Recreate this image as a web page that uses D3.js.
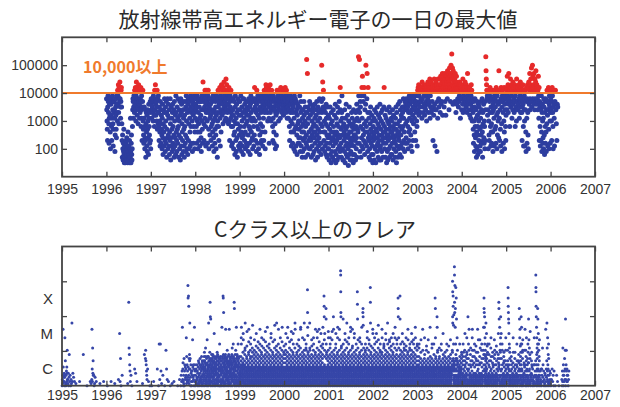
<!DOCTYPE html>
<html>
<head>
<meta charset="utf-8">
<script src="https://cdn.jsdelivr.net/npm/d3@7"></script>
<style>
body { margin: 0; background: #fff; }
.tick text { font-family: "Liberation Sans", Arial, sans-serif; font-size: 14px; fill: #333; }
.tick line { stroke: #444; stroke-width: 1.3; }
.title { font-family: "Noto Sans CJK JP", sans-serif; font-size: 21px; fill: #2a2a2a; text-anchor: middle; }
</style>
</head>
<body>
<svg id="chart" width="620" height="407"></svg>
<script>
// daily maximum of radiation belt electrons, one char per ~2 days, months split by spaces
// char index k -> log10(value) = 1.4 + 0.1*k
var electronYears = [1996, 1997, 1998, 1999, 2000, 2001, 2002, 2003, 2004, 2005, 2006];
var electronMonths = [
  "OKGD9LPNJF8HMOI C6OMIE9HNPKF7DJ NNKH5BOLIDAMPJG RPMTJFSONUOLHNR SLF93B6285D4172 3518294A6271C53 2749163H518B426 EKONHLPOJRMNSKG PUNSIOLRFOTKNMH RJONSEKPH9LNRGD B8HLE6AK93FJC7I 5DKGA4MHEB8JN96",
  "MOKHONLNJGPONIE RNKTMIONGLRDJOF PJE9LGC7NKF8IDB 6HMA4FKC7JOE95L G8NJ3DAOI6BM7HK 4C9OF2AL7HD5JM8 E6KB3NG7AI4PJC9 5LD8HOE3BKG6NI2 AO7JM4FC9NK5HD7 3IEN8BL5PGA6KJ4 MO9FK6NHC7PLE8J OKG5NMI8ELPJ6CM",
  "HMOKE8LPGC6NJF9 OLH7CNNIA5KPGD8 OUNKF9PLHROE7MJ RNKG8MPRJD6LOHB OMI9EKNNF7CJPGA 5KOH8DNLB6IPEJ3 GORLE9MNJSH7PKC OTNIRMKFSOJUPLG RNLHVOKTMGJRPMF OSKG9NPLHRJE7OI 8EKOI6BNGC4LPF9 H5MJA3FOKD7NIB6",
  "NK8EPIC5LGA7OJ4 BOHE9MKC6JNF8IL 7GNKB5OIE8LD4MH PJC9NGA6KOHE7NB SOLG9NJ5MRKE8PI D6KOH4BNLF8JP9C OKE7MNH9LRPJC6M OTKSNPRJGMOSLH8 RNMTJOPGKRNLOE9 HPLC8NKOF6JMIB7 ORJNMPLGRKNOMNH OSNKMPJNRLONIMN",
  "RNOKSPNJMRLPHMO NLHNOKE9MPJMGC7 KONF8JMLC6HPND5 OJE7NKB4IMF8LGA D8LPG5AJN7EKC3H 5KF9CNI6AGL3EJ8 Bc7JXF4LH9CK6NA 6IM9D3KG7BJE4LC F5AMH8C2KIE6NB9 3GLD7JA5OHC8KF4 8NaJE6UOLRC9KG5 C7JF4MH8B3LEA6I",
  "6B2HD8L4AF1JC59 G3A7KE2C9IB5M81 4HC9F2LA6JE3BN7 A5SKG8D3JPH6B2E 2F9C5KA1H7DM4B8 E3I6B0GA4LC7F29 5C8JE2HA4F1KD7B 4G9B2JE6AM3HD8C KdPG8cJ5NLE3PA7 SHWD6NB9PSF4KC8 MaGE7OXC5JSA9H3 B6JF2LD8A4IC7G1",
  "4E9BH2KC6AG1JD7 C5LA8F3I9EB2HM6 7D2JG5B9KA3FC8L SE6CI3A8HD1KB5G 2B9F6LD3JA7EC4H G4C8KB2EI6AD9F3 8H5LD1JB7FC3MA6 C9GN4EK7BI3HD8L JE6OH9LC5NK8FMA OKG8NLE6MJC9PHD MOJB7NKG5NPI9LF ONKHCPLM9JNMGE7",
  "PRKSMTIPRLSNJRO SNRHUOSLRJTMPSI RLSKRTNGPSROUMJ TRMNSVHPLSUJRKS NSR9TLIRVSM7KTR UKRS5TNHVRSOLTR RVJSWTMRNUSXIRV SUWLRTXNVSIWRUT WOYSVRXUKTZRSWN XaSWeVRZTMYUWRS RVNXTSJUWRMTSOR SLRTNPUSRHOSTRK",
  "SORMVJPTNRKSMUO RNLTOSJPXRMNSKN OSIRNMHPTKRNGLO JD8NGB5LOEA7KH3 C6NIE4BMG9L5JD7 5HNB8KEOC3JF9MA 8GE6N9KdYVTROPI OK6RGB9NPSJE7LC F8ORJC5MKNH7PRD OLE8SNI6PBJRGMA YNH9RKD7OSNF5LP RNJ8OGSC6MPKE9I",
  "OSRKWNPTJRXMOSE RNVLSMPTHRNKUMS SOJRTNEPSLRGVNK RNSKMTORHLSPUJN OSRJ9LNTME7RKPG 7ORKC5NSH8OTJB6 NUSMRXOKTVRNZLS RaOWSNTXMRKVOSU YNRMTSOKRNWPHS9 NLE7M9KPC5JMG8A H6OLB4NJE8OC5KF RNI7NKSD6MPLG8J",
  "ORKG9NSPJE6LRMH 7NRKF9ML"
];

// C class and above flares, half-month groups split by spaces, "." = none
// char index k -> log10(peak flux) = -6 + 0.06*k
var flareYears = [1995, 1996, 1997, 1998, 1999, 2000, 2001, 2002, 2003, 2004, 2005, 2006];
var flareHalfMonths = [
  "0315R924 2604N5C1 0517296H3 31604F 2503 1U26 42 1 . 2 . F . 0 . 21 3R82I6C5 5014 2 . 1 . 2 .",
  "0 . 2 . 1 . 3 P2D0 5 . . 1 eIFA72 50 . 86 2 . . 1 F DHCA753 82 0",
  "0 2 . 8 0K3 K71 5 0 H83 2 0 1 2 . 0 3 0527 S38B2051D 07A3948 5N1E3A274 mg92h5c1D38FC U8D40A627 0572M94A 3805S2A7",
  "0528173A4 3706194C2B 0518A3D6294 3A072E148C5B9 18053A62C79E4G 5C0839B1I6E2A74 3D1A07M5B82E649 0E8U3C15A72D9G64 e3X1B0W8D5A2C74F96 2A07D4C9F1E3B8658 4C0P72A5E1D938B6 0B9517DA3E2C8G64 6F1A03E8C5B9274D B0K5D2708EA39C61 5A1C07S38E2D9B64 h3g0F7Z2B1D5A9C8E64 0A2E8F1R5C73D9B64 8D05H3A2E7C61B94 3F07A2R9C5E1B864D D1706B5A3C9E2F48I 0A3B6D58K2E7C914 e6b3D0A1C5F8B27H94 5B0S3D2A7F1E49C6 2CK08A3D5B1E9674",
  "0213547968AEC9NKS 1042365798BDGAPM 0325146897CAFHIU 2014357698BEDJQ 0132465879ACGFLR 1034256789BHDEKN 0214356978ACEIGT 2031547689BDFHM 0124356879CAEGJP 1032465798BDFIL 0213546789ACEHKR 2014356897BDGFNJ 0132457698CAEIM 1023465789BDFHQL 0214357968ACEGJS 2031456789BDFIK 0124357698CAEHNP 1032465879BDGFL 0213456789ACEIMT 2014357698BDFHJU 0132465798CAEGKR 1023456879BDFIN 0214357689ACEHLS 2031465798BDGFJ",
  "1023546789BDFHKP 0213465879ACEGNS 2014356798BDFIL 0132457689CAEHQM 1024365789BDGFPK 0213457968ACEIUR 2031465789BDFGK 0124356879CAEHMJ 1032457698BDFIRS 0214365789ACEGN 2013456798BDFHUM 0132465879CAEIKH 1024357689BkZSODFG 0213546789ACEUIH 2031457968BDFMJ 0124365789CAEHNK 1032456879BDFGR 0214357698ACEINQ 2013465789BDFHRL 0132457968CAEGPJ 1024356789BDFIKS 0213465879hcXMAEHP 2031457698bWKDFG 0124356789CAEHQN",
  "1032465798BDFIKN 0214356879ACEGMQ 2013457689XRBDFH 0132465789CAEIKP 1024357968BDFGNS 0213456789ACEHRM 2031465879trjZXBDFIJ 0124357698CAEGWK 1032456789BDFHPM 0214365798ACEIUL 2013457689BDFGKN 0132456879CAEHSQ 1024365789BDFIRJ 0213457968ACEGNP 2031456789BDFHK 0124365879jdWCAEIM 1032457698BDFGNL 0214356789ACEHKS 2013465798ZbXTBDFI 0132457689CAEGHK 1024356879BDFINQ 0213465789ACEHMK 2031457968leUBDFGJ 0124356789CAEIRP",
  "1032465879BDFHNK 0214357698ACEGPL 2013456789BDFITM 0132465798CAEHGK 1024357689BDFGRN 0213456879ACEIKJ 2031465789BDFHPM 0124357968CAEGUK 1032456789BDFIML 0214365879ACEHJN 2013457698BDFGPK 0132456789CAEINS 1024365798BDFHMK 0213457689gbXACENI 2031456879hWBDFHK 0124365789CAEGPL 1032457968BDFIKH 0214356789ACEHNJ 2013465879BDFGRM 0132457698CAEIHK 1024356789BDFHPL 0213465798ACEGMK 2031457689BDFISN 0124356879CAEHKJ",
  "0213546798ACEIK 1024365879BDGM 2013457689ACRH 0132465798BDNF 1023457968ACHJ 0214356789BDMG 2031465879ACSE 0124357689BDIK 1032456798ACKF 0213465789g5bNBDE 2014357698XSACGH 0132456879BDIE 1024365789ACHK 0213457698BDPF 2031456789ACEG 0124365879BDKH 1032457689ACEJ 0214356798BDMF 2013465789ACHG oXjU7A0hc3D5TKC8Y2B1974 vre3Z5m0A8S2bC1K5lFD74 g8W3A0D5NC2H1B974 0132457698ACKE 1024356879BDGF",
  "0213546AEKC8G 1024357HCPA9E 2013465BGNDF8 0132X57DK8AHR 1023465AFIC9 0214357CNRHAE 2031456BHEK9 0124365DJAGC 1032457RGCA8M 0213465AEMBI 2014356BHKD9 0132457HDSFA gb5Z0S8X2KF3N7A4H1E6CD 3U9072P5D8F2BJ41GK 0213456AFKC9 1024357CINE8 2013465BGEA9 0132457MDHFA 1023456AJCG8 0214357DFPB9 eb3W0A82S5DH14GKN X507P2D3851KHA 2031456BEGC9 0124357CHNA8",
  "0213546AHC9 lgc5Z0W8U3PA72K5I14DG 1024357CEA8 2013465BNG9 0132457DGA8 1023465AKC9 0214357CFB8 2b5W08N3R7A5J1E4GCK 3X8A0S2K8571G4DHM 0213456BHA9 2AR3075H1E4CN 50827A35D1K4GB 0WB3M27I851FDQ 1024356CGA9 5083214A 0N2A5714C rljc5X0AS3FN72I8D14GK b2W0A8P3K5H71E4CM 5027318 0852I4A 270316 50R284C U0I73N5A28F1KD 0527316",
  "038 2507 0 52 0 . 3072I5A 0527D38H W03AH7285 25037"
];

var valueCode = "0123456789ABCDEFGHIJKLMNOPQRSTUVWXYZabcdefghijklmnopqrstuvwxyz";
var yearTicks = [1995, 1996, 1997, 1998, 1999, 2000, 2001, 2002, 2003, 2004, 2005, 2006, 2007];
var electronTicks = [100, 1000, 10000, 100000];
var flareTicks = [1e-5, 1e-4, 1e-3];
var classTicks = [Math.pow(10, -5.5), Math.pow(10, -4.5), Math.pow(10, -3.5)];
var classLabels = ["C", "M", "X"];
var threshold = 10000;

function unpack(years, rows, perYear, base, step) {
  var out = [];
  rows.forEach(function(row, yi) {
    row.split(" ").forEach(function(g, gi) {
      if (g === ".") return;
      for (var j = 0; j < g.length; j++) {
        out.push({
          t: years[yi] + (gi + (j + 0.5) / g.length) / perYear,
          v: Math.pow(10, base + step * valueCode.indexOf(g[j]))
        });
      }
    });
  });
  return out;
}

var electrons = unpack(electronYears, electronMonths, 12, 1.4, 0.1);
var flares = unpack(flareYears, flareHalfMonths, 24, -6, 0.06);

var blue = "#2d3d9f", red = "#e62a2a", orange = "#f07a2c";

var svg = d3.select("#chart");
var x = d3.scaleLinear().domain([1995, 2007]).range([62, 595]);
var yTop = d3.scaleLog().domain([10, 1e6]).range([176.7, 37.3]);
var yBot = d3.scaleLog().domain([1e-6, 1e-2]).range([385.7, 246.5]);

function drawFrame(g, y, ticks, labelPad) {
  var y0 = y.range()[0], y1 = y.range()[1];
  g.append("g")
    .attr("transform", "translate(0," + y0 + ")")
    .call(d3.axisBottom(x).tickValues(yearTicks).tickSize(-5).tickPadding(labelPad).tickFormat(d3.format("d")))
    .call(function(a) { a.select(".domain").remove(); });
  g.append("g")
    .attr("transform", "translate(0," + y1 + ")")
    .call(d3.axisTop(x).tickValues(yearTicks).tickSize(-5).tickFormat(""))
    .call(function(a) { a.select(".domain").remove(); });
  g.append("g")
    .attr("transform", "translate(" + x.range()[1] + ",0)")
    .call(d3.axisRight(y).tickValues(ticks).tickSize(-5).tickFormat(""))
    .call(function(a) { a.select(".domain").remove(); });
  g.append("rect")
    .attr("x", x.range()[0]).attr("y", y1)
    .attr("width", x.range()[1] - x.range()[0]).attr("height", y0 - y1)
    .attr("fill", "none").attr("stroke", "#444").attr("stroke-width", 1.8);
}

// top panel
var gTop = svg.append("g");
gTop.append("text").attr("class", "title").attr("x", 318).attr("y", 27).text("放射線帯高エネルギー電子の一日の最大値");

gTop.append("g").selectAll("circle")
  .data(electrons.filter(function(d) { return d.v < threshold; }))
  .join("circle")
  .attr("cx", function(d) { return x(d.t); })
  .attr("cy", function(d) { return yTop(d.v); })
  .attr("r", 2.5)
  .attr("fill", blue);

gTop.append("g").selectAll("circle")
  .data(electrons.filter(function(d) { return d.v >= threshold; }))
  .join("circle")
  .attr("cx", function(d) { return x(d.t); })
  .attr("cy", function(d) { return yTop(d.v); })
  .attr("r", 2.5)
  .attr("fill", red);

gTop.append("line")
  .attr("x1", x(1995)).attr("x2", x(2007))
  .attr("y1", yTop(threshold)).attr("y2", yTop(threshold))
  .attr("stroke", orange).attr("stroke-width", 2);

gTop.append("text")
  .attr("x", 83).attr("y", 73)
  .attr("font-family", "'Noto Sans CJK JP', sans-serif")
  .attr("font-weight", "bold").attr("font-size", 16)
  .attr("fill", orange)
  .text("10,000以上");

drawFrame(gTop, yTop, electronTicks, 7);
gTop.append("g")
  .attr("transform", "translate(" + x.range()[0] + ",0)")
  .call(d3.axisLeft(yTop).tickValues(electronTicks).tickSize(-5).tickPadding(4).tickFormat(d3.format("d")))
  .call(function(a) { a.select(".domain").remove(); });

// bottom panel
var gBot = svg.append("g");
gBot.append("text").attr("class", "title").attr("x", 315).attr("y", 237).text("Cクラス以上のフレア");

gBot.append("g").selectAll("circle")
  .data(flares)
  .join("circle")
  .attr("cx", function(d) { return x(d.t); })
  .attr("cy", function(d) { return yBot(d.v); })
  .attr("r", 1.5)
  .attr("fill", "#3646a8");

drawFrame(gBot, yBot, flareTicks, 4);
gBot.append("g")
  .attr("transform", "translate(" + x.range()[0] + ",0)")
  .call(d3.axisLeft(yBot).tickValues(flareTicks).tickSize(-5).tickFormat(""))
  .call(function(a) { a.select(".domain").remove(); });
gBot.append("g")
  .attr("transform", "translate(" + x.range()[0] + ",0)")
  .call(d3.axisLeft(yBot).tickValues(classTicks).tickSize(0).tickPadding(9)
    .tickFormat(function(d, i) { return classLabels[i]; }))
  .call(function(a) { a.select(".domain").remove(); })
  .selectAll("text").style("font-size", "15px");
</script>
</body>
</html>
